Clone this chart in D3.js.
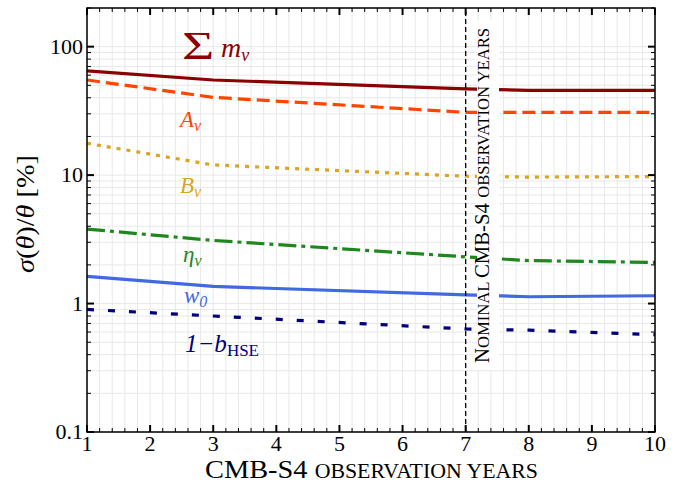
<!DOCTYPE html>
<html><head><meta charset="utf-8">
<script src="https://cdn.jsdelivr.net/npm/d3@7"></script>
<style>body{margin:0;background:#fff} svg{display:block}</style>
</head><body>
<script>
const years = [1, 3, 7, 8, 10];
const sumMnu = [64.7, 55, 47, 45.7, 45.7];
const aNu = [55, 40.3, 30.8, 30.8, 30.8];
const bNu = [17.7, 12, 9.8, 9.65, 9.75];
const etaNu = [3.8, 3.1, 2.31, 2.16, 2.09];
const w0 = [1.63, 1.36, 1.17, 1.13, 1.15];
const bHSE = [0.90, 0.80, 0.634, 0.62, 0.573];
const xTicks = [1,2,3,4,5,6,7,8,9,10];
const yTicks = [0.1, 1, 10, 100];
const yTickLabels = ["0.1", "1", "10", "100"];

const FONT = "Liberation Serif";
const W = 685, H = 487;
const m = {l: 87, r: 30, t: 8, b: 55};
const svg = d3.select("body").append("svg").attr("width", W).attr("height", H);

const x = d3.scaleLinear().domain([1, 10]).range([m.l, W - m.r]);
const y = d3.scaleLog().domain([0.1, 200]).range([H - m.b, m.t]);
const x0 = m.l, x1 = W - m.r, y0 = H - m.b, y1 = m.t;

// grid
const minorX = d3.range(1, 10.001, 0.2);
const minorY = [];
[0.1, 1, 10, 100].forEach(d => { for (let k = 1; k <= 9; k++) { const v = d * k; if (v <= 200.001) minorY.push(v); } });
const grid = svg.append("g").attr("stroke", "#e8e8e8").attr("stroke-width", 1);
minorX.forEach(v => grid.append("line").attr("x1", x(v)).attr("x2", x(v)).attr("y1", y0).attr("y2", y1));
minorY.forEach(v => grid.append("line").attr("x1", x0).attr("x2", x1).attr("y1", y(v)).attr("y2", y(v)));

// series
const series = [
  {name: "sum", vals: sumMnu, color: "#8B0000", dash: null},
  {name: "A", vals: aNu, color: "#FF4500", dash: "13,6"},
  {name: "B", vals: bNu, color: "#DAA520", dash: "4,6"},
  {name: "eta", vals: etaNu, color: "#1E881E", dash: "18,5,4,5"},
  {name: "w0", vals: w0, color: "#4169E1", dash: null},
  {name: "bhse", vals: bHSE, color: "#00007F", dash: "7,14"}
];
const line = d3.line().x((d, i) => x(years[i])).y(d => y(d));
series.forEach(s => {
  svg.append("path").datum(s.vals).attr("d", line).attr("fill", "none")
    .attr("stroke", s.color).attr("stroke-width", 3.2)
    .attr("stroke-dasharray", s.dash);
});

// nominal line
svg.append("line").attr("x1", x(7)).attr("x2", x(7)).attr("y1", y0).attr("y2", y1)
  .attr("stroke", "#000").attr("stroke-width", 1.3).attr("stroke-dasharray", "5,3");

// white box + vertical text
svg.append("rect").attr("x", 477).attr("y", 20).attr("width", 22).attr("height", 350).attr("fill", "#fff");
const vt = svg.append("text").attr("transform", "translate(489,363) rotate(-90)")
  .attr("font-size", 20).attr("fill", "#000").attr("textLength", 335).attr("lengthAdjust", "spacingAndGlyphs");
vt.append("tspan").text("N");
vt.append("tspan").attr("font-size", 16).text("OMINAL ");
vt.append("tspan").text("CMB-S4 ");
vt.append("tspan").attr("font-size", 16).text("OBSERVATION YEARS");

// frame
svg.append("rect").attr("x", x0).attr("y", y1).attr("width", x1 - x0).attr("height", y0 - y1)
  .attr("fill", "none").attr("stroke", "#000").attr("stroke-width", 1.5);

// ticks
const tk = svg.append("g").attr("stroke", "#000");
minorX.forEach(v => {
  const major = Math.abs(v - Math.round(v)) < 1e-6;
  const L = major ? 7 : 4;
  const w = major ? 2 : 1;
  tk.append("line").attr("x1", x(v)).attr("x2", x(v)).attr("y1", y0).attr("y2", y0 - L).attr("stroke-width", w);
  tk.append("line").attr("x1", x(v)).attr("x2", x(v)).attr("y1", y1).attr("y2", y1 + L).attr("stroke-width", w);
});
minorY.forEach(v => {
  const major = yTicks.some(t => Math.abs(t - v) / t < 1e-6);
  const L = major ? 7 : 4;
  const w = major ? 2 : 1;
  tk.append("line").attr("x1", x0).attr("x2", x0 + L).attr("y1", y(v)).attr("y2", y(v)).attr("stroke-width", w);
  tk.append("line").attr("x1", x1).attr("x2", x1 - L).attr("y1", y(v)).attr("y2", y(v)).attr("stroke-width", w);
});

// tick labels
svg.append("g").selectAll("text").data(xTicks).join("text")
  .attr("x", d => x(d)).attr("y", y0 + 19).attr("text-anchor", "middle")
  .attr("font-size", 22).text(d => d);
svg.append("g").selectAll("text").data(yTicks).join("text")
  .attr("x", x0 - 4).attr("y", d => y(d) + 7).attr("text-anchor", "end")
  .attr("font-size", 22).text((d, i) => yTickLabels[i]);

// axis titles
const xt = svg.append("text").attr("x", 205).attr("y", 478).attr("font-size", 26)
  .attr("textLength", 333).attr("lengthAdjust", "spacingAndGlyphs");
xt.append("tspan").text("CMB-S4 ");
xt.append("tspan").attr("font-size", 20).text("OBSERVATION YEARS");

const yt = svg.append("text").attr("transform", "translate(34,273) rotate(-90)").attr("font-size", 25)
  .attr("textLength", 118).attr("lengthAdjust", "spacingAndGlyphs");
yt.append("tspan").attr("font-style", "italic").text("σ");
yt.append("tspan").text("(");
yt.append("tspan").attr("font-style", "italic").text("θ");
yt.append("tspan").text(")/");
yt.append("tspan").attr("font-style", "italic").text("θ");
yt.append("tspan").text(" [%]");

// series labels
svg.append("text").attr("transform", "translate(182,59) scale(1.35,1)")
  .attr("fill", "#8B0000").attr("font-size", 41).text("Σ");
const s1 = svg.append("text").attr("fill", "#8B0000").attr("x", 221).attr("y", 57).attr("font-style", "italic");
s1.append("tspan").attr("font-size", 28).text("m");
s1.append("tspan").attr("dy", 4).attr("font-size", 18).text("ν");

const s2 = svg.append("text").attr("x", 180).attr("y", 127).attr("fill", "#FF4500").attr("font-size", 23).attr("font-style", "italic");
s2.append("tspan").text("A");
s2.append("tspan").attr("dy", 4).attr("font-size", 16).text("ν");

const s3 = svg.append("text").attr("x", 180).attr("y", 193).attr("fill", "#DAA520").attr("font-size", 23).attr("font-style", "italic");
s3.append("tspan").text("B");
s3.append("tspan").attr("dy", 4).attr("font-size", 16).text("ν");

const s4 = svg.append("text").attr("x", 183).attr("y", 262).attr("fill", "#1E881E").attr("font-size", 23).attr("font-style", "italic");
s4.append("tspan").text("η");
s4.append("tspan").attr("dy", 4).attr("font-size", 16).text("ν");

const s5 = svg.append("text").attr("x", 184).attr("y", 303).attr("fill", "#4169E1").attr("font-size", 23).attr("font-style", "italic");
s5.append("tspan").text("w");
s5.append("tspan").attr("dy", 4).attr("font-size", 16).text("0");

const s6 = svg.append("text").attr("x", 185).attr("y", 352).attr("fill", "#00007F").attr("font-size", 25);
s6.append("tspan").attr("font-style", "italic").text("1−b");
s6.append("tspan").attr("dy", 4).attr("font-size", 17).text("HSE");

svg.selectAll("text").attr("font-family", FONT);
</script>
</body></html>
